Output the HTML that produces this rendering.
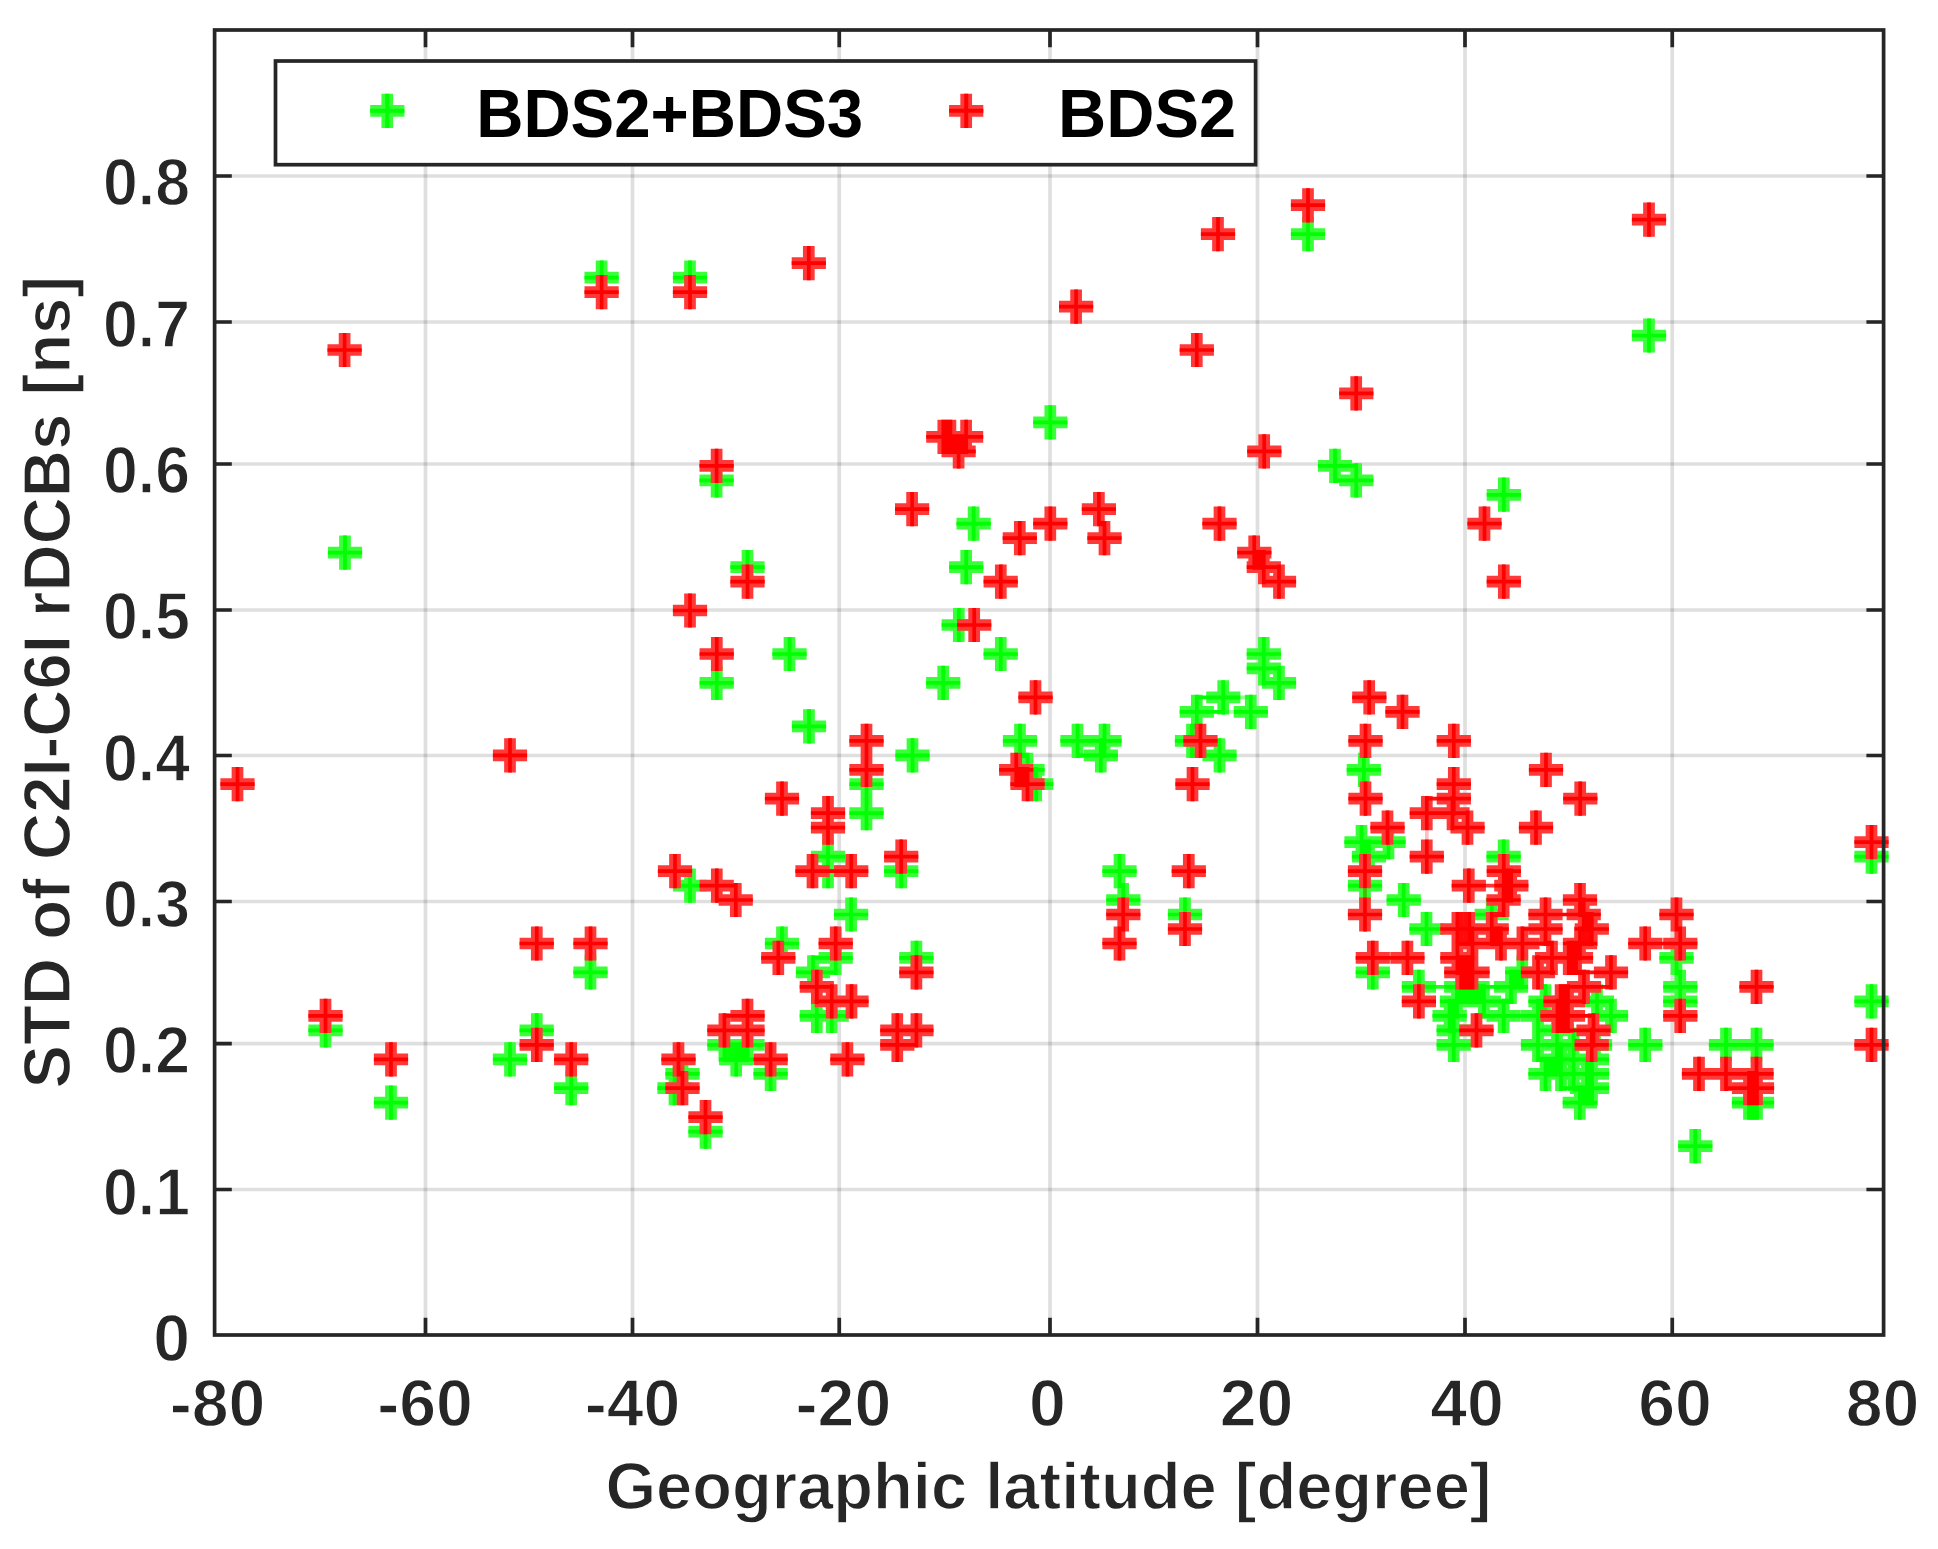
<!DOCTYPE html>
<html lang="en"><head><meta charset="utf-8"><title>STD of C2I-C6I rDCBs</title>
<style>html,body{margin:0;padding:0;background:#fff}body{width:1938px;height:1549px;overflow:hidden}svg{display:block;filter:blur(0.55px)}</style>
</head><body>
<svg width="1938" height="1549" viewBox="0 0 1938 1549">
<rect width="1938" height="1549" fill="#fff"/>
<path d="M425.5 30.0V1335.0M632.5 30.0V1335.0M839.25 30.0V1335.0M1050 30.0V1335.0M1257.5 30.0V1335.0M1465 30.0V1335.0M1672.25 30.0V1335.0" stroke="#262626" stroke-opacity="0.15" stroke-width="3.7" fill="none"/>
<path d="M214.6 176H1883.6M214.6 322H1883.6M214.6 464H1883.6M214.6 610H1883.6M214.6 755.5H1883.6M214.6 901.5H1883.6M214.6 1043.7H1883.6M214.6 1189.5H1883.6" stroke="#262626" stroke-opacity="0.15" stroke-width="3.7" fill="none"/>
<path d="M425.5 1335.0v-17.2M425.5 30.0v17.2M632.5 1335.0v-17.2M632.5 30.0v17.2M839.25 1335.0v-17.2M839.25 30.0v17.2M1050 1335.0v-17.2M1050 30.0v17.2M1257.5 1335.0v-17.2M1257.5 30.0v17.2M1465 1335.0v-17.2M1465 30.0v17.2M1672.25 1335.0v-17.2M1672.25 30.0v17.2M214.6 176h17.2M1883.6 176h-17.2M214.6 322h17.2M1883.6 322h-17.2M214.6 464h17.2M1883.6 464h-17.2M214.6 610h17.2M1883.6 610h-17.2M214.6 755.5h17.2M1883.6 755.5h-17.2M214.6 901.5h17.2M1883.6 901.5h-17.2M214.6 1043.7h17.2M1883.6 1043.7h-17.2M214.6 1189.5h17.2M1883.6 1189.5h-17.2" stroke="#262626" stroke-width="3.7" fill="none"/>
<defs><filter id="er" filterUnits="userSpaceOnUse" x="0" y="0" width="1938" height="1549"><feMorphology operator="erode" radius="4"/></filter></defs>
<path d="M327.9 552.6h34.2M345.0 535.5v34.2M584.5 277.6h34.2M601.6 260.5v34.2M672.9 277.6h34.2M690.0 260.5v34.2M699.5 480.3h34.2M716.6 463.2v34.2M1033.2 422.4h34.2M1050.3 405.3v34.2M956.5 523.7h34.2M973.6 506.6v34.2M1290.9 234.2h34.2M1308.0 217.1v34.2M1317.9 465.8h34.2M1335.0 448.7v34.2M1339.2 480.3h34.2M1356.2 463.2v34.2M1486.7 494.8h34.2M1503.8 477.6v34.2M1631.9 335.5h34.2M1649.0 318.4v34.2M730.4 567.1h34.2M747.5 550.0v34.2M949.1 567.1h34.2M966.2 550.0v34.2M941.6 625.0h34.2M958.8 607.9v34.2M772.4 654.0h34.2M789.5 636.9v34.2M983.6 654.0h34.2M1000.8 636.9v34.2M699.6 682.9h34.2M716.8 665.8v34.2M926.1 682.9h34.2M943.2 665.8v34.2M791.9 726.4h34.2M809.0 709.2v34.2M1002.9 740.8h34.2M1020.0 723.7v34.2M1060.4 740.8h34.2M1077.5 723.7v34.2M1087.4 740.8h34.2M1104.5 723.7v34.2M895.4 755.3h34.2M912.5 738.2v34.2M1083.7 755.3h34.2M1100.8 738.2v34.2M849.4 784.2h34.2M866.5 767.1v34.2M1010.4 769.8h34.2M1027.5 752.7v34.2M1019.1 784.2h34.2M1036.2 767.1v34.2M849.4 813.2h34.2M866.5 796.1v34.2M810.9 856.6h34.2M828.0 839.5v34.2M810.9 871.1h34.2M828.0 854.0v34.2M884.1 871.1h34.2M901.2 854.0v34.2M672.9 885.6h34.2M690.0 868.5v34.2M1246.7 654.0h34.2M1263.8 636.9v34.2M1246.7 668.4h34.2M1263.8 651.3v34.2M1261.9 682.9h34.2M1279.0 665.8v34.2M1206.2 697.4h34.2M1223.2 680.3v34.2M1179.7 711.9h34.2M1196.8 694.8v34.2M1233.7 711.9h34.2M1250.8 694.8v34.2M1174.9 740.8h34.2M1192.0 723.7v34.2M1202.4 755.3h34.2M1219.5 738.2v34.2M1346.7 769.8h34.2M1363.8 752.7v34.2M1344.4 842.1h34.2M1361.5 825.0v34.2M1371.4 842.1h34.2M1388.5 825.0v34.2M1351.9 856.6h34.2M1369.0 839.5v34.2M1486.5 856.6h34.2M1503.6 839.5v34.2M1347.9 885.6h34.2M1365.0 868.5v34.2M1386.6 900.0h34.2M1403.7 882.9v34.2M1854.4 856.6h34.2M1871.5 839.5v34.2M573.4 972.4h34.2M590.5 955.3v34.2M308.4 1030.3h34.2M325.5 1013.2v34.2M519.6 1030.3h34.2M536.8 1013.2v34.2M492.9 1059.3h34.2M510.0 1042.2v34.2M554.1 1088.2h34.2M571.2 1071.1v34.2M373.9 1102.7h34.2M391.0 1085.6v34.2M834.0 914.5h34.2M851.1 897.4v34.2M764.9 943.5h34.2M782.0 926.4v34.2M818.6 957.9h34.2M835.7 940.8v34.2M795.9 972.4h34.2M813.0 955.3v34.2M799.7 1015.8h34.2M816.8 998.7v34.2M814.6 1015.8h34.2M831.7 998.7v34.2M899.3 957.9h34.2M916.4 940.8v34.2M707.3 1044.8h34.2M724.4 1027.7v34.2M730.4 1044.8h34.2M747.5 1027.7v34.2M719.1 1059.3h34.2M736.2 1042.2v34.2M753.5 1073.8h34.2M770.6 1056.7v34.2M665.4 1073.8h34.2M682.5 1056.7v34.2M657.4 1088.2h34.2M674.5 1071.1v34.2M688.4 1131.6h34.2M705.5 1114.5v34.2M1102.4 871.1h34.2M1119.5 854.0v34.2M1106.2 900.0h34.2M1123.2 882.9v34.2M1167.9 914.5h34.2M1185.0 897.4v34.2M1409.4 929.0h34.2M1426.5 911.9v34.2M1355.7 972.4h34.2M1372.8 955.3v34.2M1401.8 986.9h34.2M1418.9 969.8v34.2M1474.6 914.5h34.2M1491.7 897.4v34.2M1505.2 972.4h34.2M1522.3 955.3v34.2M1444.1 986.9h34.2M1461.2 969.8v34.2M1455.4 986.9h34.2M1472.5 969.8v34.2M1493.9 986.9h34.2M1511.0 969.8v34.2M1439.9 1001.4h34.2M1457.0 984.3v34.2M1466.8 1001.4h34.2M1483.9 984.3v34.2M1432.5 1015.8h34.2M1449.6 998.7v34.2M1486.5 1015.8h34.2M1503.6 998.7v34.2M1436.6 1030.3h34.2M1453.7 1013.2v34.2M1436.6 1044.8h34.2M1453.7 1027.7v34.2M1528.4 1001.4h34.2M1545.5 984.3v34.2M1520.9 1015.8h34.2M1538.0 998.7v34.2M1520.9 1044.8h34.2M1538.0 1027.7v34.2M1528.4 1073.8h34.2M1545.5 1056.7v34.2M1539.9 1030.3h34.2M1557.0 1013.2v34.2M1539.9 1044.8h34.2M1557.0 1027.7v34.2M1539.9 1059.3h34.2M1557.0 1042.2v34.2M1543.9 1059.3h34.2M1561.0 1042.2v34.2M1543.9 1073.8h34.2M1561.0 1056.7v34.2M1574.9 1059.3h34.2M1592.0 1042.2v34.2M1574.9 1073.8h34.2M1592.0 1056.7v34.2M1574.9 1088.2h34.2M1592.0 1071.1v34.2M1569.9 1073.8h34.2M1587.0 1056.7v34.2M1569.9 1088.2h34.2M1587.0 1071.1v34.2M1577.9 1044.8h34.2M1595.0 1027.7v34.2M1579.9 1001.4h34.2M1597.0 984.3v34.2M1562.7 1102.7h34.2M1579.8 1085.6v34.2M1593.9 1015.8h34.2M1611.0 998.7v34.2M1659.4 957.9h34.2M1676.5 940.8v34.2M1663.2 986.9h34.2M1680.2 969.8v34.2M1663.2 1001.4h34.2M1680.2 984.3v34.2M1854.4 1001.4h34.2M1871.5 984.3v34.2M1628.2 1044.8h34.2M1645.2 1027.7v34.2M1708.9 1044.8h34.2M1726.0 1027.7v34.2M1739.4 1044.8h34.2M1756.5 1027.7v34.2M1731.9 1102.7h34.2M1749.0 1085.6v34.2M1739.9 1102.7h34.2M1757.0 1085.6v34.2M1678.2 1146.1h34.2M1695.2 1129.0v34.2M1556.5 1044.8h34.2M1573.6 1027.7v34.2M1556.5 1073.8h34.2M1573.6 1056.7v34.2" stroke="#38ff38" stroke-width="11.7" fill="none"/>
<path d="M323.9 552.6h42.2M345.0 531.5v42.2M580.5 277.6h42.2M601.6 256.5v42.2M668.9 277.6h42.2M690.0 256.5v42.2M695.5 480.3h42.2M716.6 459.2v42.2M1029.2 422.4h42.2M1050.3 401.3v42.2M952.5 523.7h42.2M973.6 502.6v42.2M1286.9 234.2h42.2M1308.0 213.1v42.2M1313.9 465.8h42.2M1335.0 444.7v42.2M1335.2 480.3h42.2M1356.2 459.2v42.2M1482.7 494.8h42.2M1503.8 473.6v42.2M1627.9 335.5h42.2M1649.0 314.4v42.2M726.4 567.1h42.2M747.5 546.0v42.2M945.1 567.1h42.2M966.2 546.0v42.2M937.6 625.0h42.2M958.8 603.9v42.2M768.4 654.0h42.2M789.5 632.9v42.2M979.6 654.0h42.2M1000.8 632.9v42.2M695.6 682.9h42.2M716.8 661.8v42.2M922.1 682.9h42.2M943.2 661.8v42.2M787.9 726.4h42.2M809.0 705.2v42.2M998.9 740.8h42.2M1020.0 719.7v42.2M1056.4 740.8h42.2M1077.5 719.7v42.2M1083.4 740.8h42.2M1104.5 719.7v42.2M891.4 755.3h42.2M912.5 734.2v42.2M1079.7 755.3h42.2M1100.8 734.2v42.2M845.4 784.2h42.2M866.5 763.1v42.2M1006.4 769.8h42.2M1027.5 748.7v42.2M1015.1 784.2h42.2M1036.2 763.1v42.2M845.4 813.2h42.2M866.5 792.1v42.2M806.9 856.6h42.2M828.0 835.5v42.2M806.9 871.1h42.2M828.0 850.0v42.2M880.1 871.1h42.2M901.2 850.0v42.2M668.9 885.6h42.2M690.0 864.5v42.2M1242.7 654.0h42.2M1263.8 632.9v42.2M1242.7 668.4h42.2M1263.8 647.3v42.2M1257.9 682.9h42.2M1279.0 661.8v42.2M1202.2 697.4h42.2M1223.2 676.3v42.2M1175.7 711.9h42.2M1196.8 690.8v42.2M1229.7 711.9h42.2M1250.8 690.8v42.2M1170.9 740.8h42.2M1192.0 719.7v42.2M1198.4 755.3h42.2M1219.5 734.2v42.2M1342.7 769.8h42.2M1363.8 748.7v42.2M1340.4 842.1h42.2M1361.5 821.0v42.2M1367.4 842.1h42.2M1388.5 821.0v42.2M1347.9 856.6h42.2M1369.0 835.5v42.2M1482.5 856.6h42.2M1503.6 835.5v42.2M1343.9 885.6h42.2M1365.0 864.5v42.2M1382.6 900.0h42.2M1403.7 878.9v42.2M1850.4 856.6h42.2M1871.5 835.5v42.2M569.4 972.4h42.2M590.5 951.3v42.2M304.4 1030.3h42.2M325.5 1009.2v42.2M515.6 1030.3h42.2M536.8 1009.2v42.2M488.9 1059.3h42.2M510.0 1038.2v42.2M550.1 1088.2h42.2M571.2 1067.1v42.2M369.9 1102.7h42.2M391.0 1081.6v42.2M830.0 914.5h42.2M851.1 893.4v42.2M760.9 943.5h42.2M782.0 922.4v42.2M814.6 957.9h42.2M835.7 936.8v42.2M791.9 972.4h42.2M813.0 951.3v42.2M795.7 1015.8h42.2M816.8 994.7v42.2M810.6 1015.8h42.2M831.7 994.7v42.2M895.3 957.9h42.2M916.4 936.8v42.2M703.3 1044.8h42.2M724.4 1023.7v42.2M726.4 1044.8h42.2M747.5 1023.7v42.2M715.1 1059.3h42.2M736.2 1038.2v42.2M749.5 1073.8h42.2M770.6 1052.7v42.2M661.4 1073.8h42.2M682.5 1052.7v42.2M653.4 1088.2h42.2M674.5 1067.1v42.2M684.4 1131.6h42.2M705.5 1110.5v42.2M1098.4 871.1h42.2M1119.5 850.0v42.2M1102.2 900.0h42.2M1123.2 878.9v42.2M1163.9 914.5h42.2M1185.0 893.4v42.2M1405.4 929.0h42.2M1426.5 907.9v42.2M1351.7 972.4h42.2M1372.8 951.3v42.2M1397.8 986.9h42.2M1418.9 965.8v42.2M1470.6 914.5h42.2M1491.7 893.4v42.2M1501.2 972.4h42.2M1522.3 951.3v42.2M1440.1 986.9h42.2M1461.2 965.8v42.2M1451.4 986.9h42.2M1472.5 965.8v42.2M1489.9 986.9h42.2M1511.0 965.8v42.2M1435.9 1001.4h42.2M1457.0 980.3v42.2M1462.8 1001.4h42.2M1483.9 980.3v42.2M1428.5 1015.8h42.2M1449.6 994.7v42.2M1482.5 1015.8h42.2M1503.6 994.7v42.2M1432.6 1030.3h42.2M1453.7 1009.2v42.2M1432.6 1044.8h42.2M1453.7 1023.7v42.2M1524.4 1001.4h42.2M1545.5 980.3v42.2M1516.9 1015.8h42.2M1538.0 994.7v42.2M1516.9 1044.8h42.2M1538.0 1023.7v42.2M1524.4 1073.8h42.2M1545.5 1052.7v42.2M1535.9 1030.3h42.2M1557.0 1009.2v42.2M1535.9 1044.8h42.2M1557.0 1023.7v42.2M1535.9 1059.3h42.2M1557.0 1038.2v42.2M1539.9 1059.3h42.2M1561.0 1038.2v42.2M1539.9 1073.8h42.2M1561.0 1052.7v42.2M1570.9 1059.3h42.2M1592.0 1038.2v42.2M1570.9 1073.8h42.2M1592.0 1052.7v42.2M1570.9 1088.2h42.2M1592.0 1067.1v42.2M1565.9 1073.8h42.2M1587.0 1052.7v42.2M1565.9 1088.2h42.2M1587.0 1067.1v42.2M1573.9 1044.8h42.2M1595.0 1023.7v42.2M1575.9 1001.4h42.2M1597.0 980.3v42.2M1558.7 1102.7h42.2M1579.8 1081.6v42.2M1589.9 1015.8h42.2M1611.0 994.7v42.2M1655.4 957.9h42.2M1676.5 936.8v42.2M1659.2 986.9h42.2M1680.2 965.8v42.2M1659.2 1001.4h42.2M1680.2 980.3v42.2M1850.4 1001.4h42.2M1871.5 980.3v42.2M1624.2 1044.8h42.2M1645.2 1023.7v42.2M1704.9 1044.8h42.2M1726.0 1023.7v42.2M1735.4 1044.8h42.2M1756.5 1023.7v42.2M1727.9 1102.7h42.2M1749.0 1081.6v42.2M1735.9 1102.7h42.2M1757.0 1081.6v42.2M1674.2 1146.1h42.2M1695.2 1125.0v42.2M1552.5 1044.8h42.2M1573.6 1023.7v42.2M1552.5 1073.8h42.2M1573.6 1052.7v42.2" stroke="#00ff00" stroke-width="11.7" fill="none" filter="url(#er)"/>
<path d="M327.5 350.0h34.2M344.6 332.9v34.2M584.5 292.1h34.2M601.6 275.0v34.2M672.9 292.1h34.2M690.0 275.0v34.2M791.7 263.1h34.2M808.8 246.0v34.2M1059.0 306.6h34.2M1076.1 289.5v34.2M926.2 436.8h34.2M943.3 419.7v34.2M933.3 436.8h34.2M950.4 419.7v34.2M949.0 436.8h34.2M966.1 419.7v34.2M941.5 451.3h34.2M958.6 434.2v34.2M699.5 465.8h34.2M716.6 448.7v34.2M895.0 509.2h34.2M912.1 492.1v34.2M1002.7 538.2h34.2M1019.8 521.1v34.2M1033.2 523.7h34.2M1050.3 506.6v34.2M1081.8 509.2h34.2M1098.9 492.1v34.2M1087.4 538.2h34.2M1104.5 521.1v34.2M1290.9 205.2h34.2M1308.0 188.2v34.2M1200.9 234.2h34.2M1218.0 217.1v34.2M1179.7 350.0h34.2M1196.8 332.9v34.2M1339.2 393.4h34.2M1356.2 376.3v34.2M1247.2 451.3h34.2M1264.2 434.2v34.2M1467.4 523.7h34.2M1484.5 506.6v34.2M1202.4 523.7h34.2M1219.5 506.6v34.2M1631.9 219.7h34.2M1649.0 202.6v34.2M492.9 755.3h34.2M510.0 738.2v34.2M220.4 784.2h34.2M237.5 767.1v34.2M657.9 871.1h34.2M675.0 854.0v34.2M730.4 581.6h34.2M747.5 564.5v34.2M983.6 581.6h34.2M1000.8 564.5v34.2M672.9 610.5h34.2M690.0 593.4v34.2M957.1 625.0h34.2M974.2 607.9v34.2M699.6 654.0h34.2M716.8 636.9v34.2M1018.4 697.4h34.2M1035.5 680.3v34.2M849.4 740.8h34.2M866.5 723.7v34.2M849.4 769.8h34.2M866.5 752.7v34.2M999.1 769.8h34.2M1016.2 752.7v34.2M1010.4 784.2h34.2M1027.5 767.1v34.2M764.9 798.7h34.2M782.0 781.6v34.2M810.9 813.2h34.2M828.0 796.1v34.2M810.9 827.7h34.2M828.0 810.6v34.2M884.1 856.6h34.2M901.2 839.5v34.2M795.4 871.1h34.2M812.5 854.0v34.2M834.1 871.1h34.2M851.2 854.0v34.2M699.6 885.6h34.2M716.8 868.5v34.2M718.6 900.0h34.2M735.8 882.9v34.2M1237.2 552.6h34.2M1254.2 535.5v34.2M1246.7 567.1h34.2M1263.8 550.0v34.2M1261.9 581.6h34.2M1279.0 564.5v34.2M1486.7 581.6h34.2M1503.8 564.5v34.2M1352.2 697.4h34.2M1369.2 680.3v34.2M1385.4 711.9h34.2M1402.5 694.8v34.2M1183.4 740.8h34.2M1200.5 723.7v34.2M1175.4 784.2h34.2M1192.5 767.1v34.2M1348.4 740.8h34.2M1365.5 723.7v34.2M1436.7 740.8h34.2M1453.8 723.7v34.2M1348.4 798.7h34.2M1365.5 781.6v34.2M1528.9 769.8h34.2M1546.0 752.7v34.2M1436.7 784.2h34.2M1453.8 767.1v34.2M1436.7 798.7h34.2M1453.8 781.6v34.2M1435.4 813.2h34.2M1452.5 796.1v34.2M1409.7 813.2h34.2M1426.8 796.1v34.2M1450.4 827.7h34.2M1467.5 810.6v34.2M1563.2 798.7h34.2M1580.2 781.6v34.2M1518.9 827.7h34.2M1536.0 810.6v34.2M1370.4 827.7h34.2M1387.5 810.6v34.2M1409.7 856.6h34.2M1426.8 839.5v34.2M1347.9 871.1h34.2M1365.0 854.0v34.2M1486.7 871.1h34.2M1503.8 854.0v34.2M1451.7 885.6h34.2M1468.8 868.5v34.2M1494.2 885.6h34.2M1511.2 868.5v34.2M1171.7 871.1h34.2M1188.8 854.0v34.2M1854.4 842.1h34.2M1871.5 825.0v34.2M519.6 943.5h34.2M536.8 926.4v34.2M573.4 943.5h34.2M590.5 926.4v34.2M308.4 1015.8h34.2M325.5 998.7v34.2M519.6 1044.8h34.2M536.8 1027.7v34.2M373.9 1059.3h34.2M391.0 1042.2v34.2M554.1 1059.3h34.2M571.2 1042.2v34.2M661.4 1059.3h34.2M678.5 1042.2v34.2M665.4 1088.2h34.2M682.5 1071.1v34.2M688.4 1117.2h34.2M705.5 1100.1v34.2M761.2 957.9h34.2M778.3 940.8v34.2M818.6 943.5h34.2M835.7 926.4v34.2M799.7 986.9h34.2M816.8 969.8v34.2M814.6 1001.4h34.2M831.7 984.3v34.2M834.4 1001.4h34.2M851.5 984.3v34.2M899.3 972.4h34.2M916.4 955.3v34.2M730.4 1015.8h34.2M747.5 998.7v34.2M707.3 1030.3h34.2M724.4 1013.2v34.2M730.4 1030.3h34.2M747.5 1013.2v34.2M753.5 1059.3h34.2M770.6 1042.2v34.2M830.3 1059.3h34.2M847.4 1042.2v34.2M880.2 1030.3h34.2M897.3 1013.2v34.2M899.3 1030.3h34.2M916.4 1013.2v34.2M880.2 1044.8h34.2M897.3 1027.7v34.2M1106.2 914.5h34.2M1123.2 897.4v34.2M1102.4 943.5h34.2M1119.5 926.4v34.2M1167.9 929.0h34.2M1185.0 911.9v34.2M1347.9 914.5h34.2M1365.0 897.4v34.2M1355.7 957.9h34.2M1372.8 940.8v34.2M1390.3 957.9h34.2M1407.4 940.8v34.2M1401.8 1001.4h34.2M1418.9 984.3v34.2M1486.5 900.0h34.2M1503.6 882.9v34.2M1440.3 929.0h34.2M1457.4 911.9v34.2M1452.2 929.0h34.2M1469.3 911.9v34.2M1474.6 929.0h34.2M1491.7 911.9v34.2M1455.4 943.5h34.2M1472.5 926.4v34.2M1483.9 943.5h34.2M1501.0 926.4v34.2M1505.3 943.5h34.2M1522.4 926.4v34.2M1440.3 957.9h34.2M1457.4 940.8v34.2M1444.2 972.4h34.2M1461.2 955.3v34.2M1455.4 972.4h34.2M1472.5 955.3v34.2M1528.4 914.5h34.2M1545.5 897.4v34.2M1528.4 929.0h34.2M1545.5 911.9v34.2M1534.9 957.9h34.2M1552.0 940.8v34.2M1520.9 972.4h34.2M1538.0 955.3v34.2M1551.6 957.9h34.2M1568.7 940.8v34.2M1558.9 957.9h34.2M1576.0 940.8v34.2M1562.9 900.0h34.2M1580.0 882.9v34.2M1566.6 914.5h34.2M1583.7 897.4v34.2M1574.7 929.0h34.2M1591.8 911.9v34.2M1562.9 943.5h34.2M1580.0 926.4v34.2M1593.9 972.4h34.2M1611.0 955.3v34.2M1566.9 986.9h34.2M1584.0 969.8v34.2M1543.5 1001.4h34.2M1560.6 984.3v34.2M1550.9 1001.4h34.2M1568.0 984.3v34.2M1540.4 1015.8h34.2M1557.5 998.7v34.2M1550.9 1015.8h34.2M1568.0 998.7v34.2M1576.4 1030.3h34.2M1593.5 1013.2v34.2M1574.6 1044.8h34.2M1591.7 1027.7v34.2M1459.4 1030.3h34.2M1476.5 1013.2v34.2M1659.4 914.5h34.2M1676.5 897.4v34.2M1628.2 943.5h34.2M1645.2 926.4v34.2M1663.2 943.5h34.2M1680.2 926.4v34.2M1663.2 1015.8h34.2M1680.2 998.7v34.2M1739.4 986.9h34.2M1756.5 969.8v34.2M1854.4 1044.8h34.2M1871.5 1027.7v34.2M1681.9 1073.8h34.2M1699.0 1056.7v34.2M1708.9 1073.8h34.2M1726.0 1056.7v34.2M1739.4 1073.8h34.2M1756.5 1056.7v34.2M1731.9 1088.2h34.2M1749.0 1071.1v34.2M1739.9 1088.2h34.2M1757.0 1071.1v34.2" stroke="#ff3838" stroke-width="11.7" fill="none"/>
<path d="M323.5 350.0h42.2M344.6 328.9v42.2M580.5 292.1h42.2M601.6 271.0v42.2M668.9 292.1h42.2M690.0 271.0v42.2M787.7 263.1h42.2M808.8 242.0v42.2M1055.0 306.6h42.2M1076.1 285.5v42.2M922.2 436.8h42.2M943.3 415.7v42.2M929.3 436.8h42.2M950.4 415.7v42.2M945.0 436.8h42.2M966.1 415.7v42.2M937.5 451.3h42.2M958.6 430.2v42.2M695.5 465.8h42.2M716.6 444.7v42.2M891.0 509.2h42.2M912.1 488.1v42.2M998.7 538.2h42.2M1019.8 517.1v42.2M1029.2 523.7h42.2M1050.3 502.6v42.2M1077.8 509.2h42.2M1098.9 488.1v42.2M1083.4 538.2h42.2M1104.5 517.1v42.2M1286.9 205.2h42.2M1308.0 184.2v42.2M1196.9 234.2h42.2M1218.0 213.1v42.2M1175.7 350.0h42.2M1196.8 328.9v42.2M1335.2 393.4h42.2M1356.2 372.3v42.2M1243.2 451.3h42.2M1264.2 430.2v42.2M1463.4 523.7h42.2M1484.5 502.6v42.2M1198.4 523.7h42.2M1219.5 502.6v42.2M1627.9 219.7h42.2M1649.0 198.6v42.2M488.9 755.3h42.2M510.0 734.2v42.2M216.4 784.2h42.2M237.5 763.1v42.2M653.9 871.1h42.2M675.0 850.0v42.2M726.4 581.6h42.2M747.5 560.5v42.2M979.6 581.6h42.2M1000.8 560.5v42.2M668.9 610.5h42.2M690.0 589.4v42.2M953.1 625.0h42.2M974.2 603.9v42.2M695.6 654.0h42.2M716.8 632.9v42.2M1014.4 697.4h42.2M1035.5 676.3v42.2M845.4 740.8h42.2M866.5 719.7v42.2M845.4 769.8h42.2M866.5 748.7v42.2M995.1 769.8h42.2M1016.2 748.7v42.2M1006.4 784.2h42.2M1027.5 763.1v42.2M760.9 798.7h42.2M782.0 777.6v42.2M806.9 813.2h42.2M828.0 792.1v42.2M806.9 827.7h42.2M828.0 806.6v42.2M880.1 856.6h42.2M901.2 835.5v42.2M791.4 871.1h42.2M812.5 850.0v42.2M830.1 871.1h42.2M851.2 850.0v42.2M695.6 885.6h42.2M716.8 864.5v42.2M714.6 900.0h42.2M735.8 878.9v42.2M1233.2 552.6h42.2M1254.2 531.5v42.2M1242.7 567.1h42.2M1263.8 546.0v42.2M1257.9 581.6h42.2M1279.0 560.5v42.2M1482.7 581.6h42.2M1503.8 560.5v42.2M1348.2 697.4h42.2M1369.2 676.3v42.2M1381.4 711.9h42.2M1402.5 690.8v42.2M1179.4 740.8h42.2M1200.5 719.7v42.2M1171.4 784.2h42.2M1192.5 763.1v42.2M1344.4 740.8h42.2M1365.5 719.7v42.2M1432.7 740.8h42.2M1453.8 719.7v42.2M1344.4 798.7h42.2M1365.5 777.6v42.2M1524.9 769.8h42.2M1546.0 748.7v42.2M1432.7 784.2h42.2M1453.8 763.1v42.2M1432.7 798.7h42.2M1453.8 777.6v42.2M1431.4 813.2h42.2M1452.5 792.1v42.2M1405.7 813.2h42.2M1426.8 792.1v42.2M1446.4 827.7h42.2M1467.5 806.6v42.2M1559.2 798.7h42.2M1580.2 777.6v42.2M1514.9 827.7h42.2M1536.0 806.6v42.2M1366.4 827.7h42.2M1387.5 806.6v42.2M1405.7 856.6h42.2M1426.8 835.5v42.2M1343.9 871.1h42.2M1365.0 850.0v42.2M1482.7 871.1h42.2M1503.8 850.0v42.2M1447.7 885.6h42.2M1468.8 864.5v42.2M1490.2 885.6h42.2M1511.2 864.5v42.2M1167.7 871.1h42.2M1188.8 850.0v42.2M1850.4 842.1h42.2M1871.5 821.0v42.2M515.6 943.5h42.2M536.8 922.4v42.2M569.4 943.5h42.2M590.5 922.4v42.2M304.4 1015.8h42.2M325.5 994.7v42.2M515.6 1044.8h42.2M536.8 1023.7v42.2M369.9 1059.3h42.2M391.0 1038.2v42.2M550.1 1059.3h42.2M571.2 1038.2v42.2M657.4 1059.3h42.2M678.5 1038.2v42.2M661.4 1088.2h42.2M682.5 1067.1v42.2M684.4 1117.2h42.2M705.5 1096.1v42.2M757.2 957.9h42.2M778.3 936.8v42.2M814.6 943.5h42.2M835.7 922.4v42.2M795.7 986.9h42.2M816.8 965.8v42.2M810.6 1001.4h42.2M831.7 980.3v42.2M830.4 1001.4h42.2M851.5 980.3v42.2M895.3 972.4h42.2M916.4 951.3v42.2M726.4 1015.8h42.2M747.5 994.7v42.2M703.3 1030.3h42.2M724.4 1009.2v42.2M726.4 1030.3h42.2M747.5 1009.2v42.2M749.5 1059.3h42.2M770.6 1038.2v42.2M826.3 1059.3h42.2M847.4 1038.2v42.2M876.2 1030.3h42.2M897.3 1009.2v42.2M895.3 1030.3h42.2M916.4 1009.2v42.2M876.2 1044.8h42.2M897.3 1023.7v42.2M1102.2 914.5h42.2M1123.2 893.4v42.2M1098.4 943.5h42.2M1119.5 922.4v42.2M1163.9 929.0h42.2M1185.0 907.9v42.2M1343.9 914.5h42.2M1365.0 893.4v42.2M1351.7 957.9h42.2M1372.8 936.8v42.2M1386.3 957.9h42.2M1407.4 936.8v42.2M1397.8 1001.4h42.2M1418.9 980.3v42.2M1482.5 900.0h42.2M1503.6 878.9v42.2M1436.3 929.0h42.2M1457.4 907.9v42.2M1448.2 929.0h42.2M1469.3 907.9v42.2M1470.6 929.0h42.2M1491.7 907.9v42.2M1451.4 943.5h42.2M1472.5 922.4v42.2M1479.9 943.5h42.2M1501.0 922.4v42.2M1501.3 943.5h42.2M1522.4 922.4v42.2M1436.3 957.9h42.2M1457.4 936.8v42.2M1440.2 972.4h42.2M1461.2 951.3v42.2M1451.4 972.4h42.2M1472.5 951.3v42.2M1524.4 914.5h42.2M1545.5 893.4v42.2M1524.4 929.0h42.2M1545.5 907.9v42.2M1530.9 957.9h42.2M1552.0 936.8v42.2M1516.9 972.4h42.2M1538.0 951.3v42.2M1547.6 957.9h42.2M1568.7 936.8v42.2M1554.9 957.9h42.2M1576.0 936.8v42.2M1558.9 900.0h42.2M1580.0 878.9v42.2M1562.6 914.5h42.2M1583.7 893.4v42.2M1570.7 929.0h42.2M1591.8 907.9v42.2M1558.9 943.5h42.2M1580.0 922.4v42.2M1589.9 972.4h42.2M1611.0 951.3v42.2M1562.9 986.9h42.2M1584.0 965.8v42.2M1539.5 1001.4h42.2M1560.6 980.3v42.2M1546.9 1001.4h42.2M1568.0 980.3v42.2M1536.4 1015.8h42.2M1557.5 994.7v42.2M1546.9 1015.8h42.2M1568.0 994.7v42.2M1572.4 1030.3h42.2M1593.5 1009.2v42.2M1570.6 1044.8h42.2M1591.7 1023.7v42.2M1455.4 1030.3h42.2M1476.5 1009.2v42.2M1655.4 914.5h42.2M1676.5 893.4v42.2M1624.2 943.5h42.2M1645.2 922.4v42.2M1659.2 943.5h42.2M1680.2 922.4v42.2M1659.2 1015.8h42.2M1680.2 994.7v42.2M1735.4 986.9h42.2M1756.5 965.8v42.2M1850.4 1044.8h42.2M1871.5 1023.7v42.2M1677.9 1073.8h42.2M1699.0 1052.7v42.2M1704.9 1073.8h42.2M1726.0 1052.7v42.2M1735.4 1073.8h42.2M1756.5 1052.7v42.2M1727.9 1088.2h42.2M1749.0 1067.1v42.2M1735.9 1088.2h42.2M1757.0 1067.1v42.2" stroke="#ff0000" stroke-width="11.7" fill="none" filter="url(#er)"/>
<rect x="214.6" y="30.0" width="1669.0" height="1305.0" fill="none" stroke="#262626" stroke-width="3.7"/>
<rect x="275.5" y="61" width="980.0999999999999" height="103.69999999999999" fill="#fff" stroke="#262626" stroke-width="3.7"/>
<path d="M370.2 110.8h34.2M387.3 93.69999999999999v34.2" stroke="#38ff38" stroke-width="11.7" fill="none"/><path d="M370.2 110.8h34.2M387.3 93.69999999999999v34.2" stroke="#00ff00" stroke-width="4.0" fill="none"/>
<path d="M949.1 110.8h34.2M966.2 93.69999999999999v34.2" stroke="#ff3838" stroke-width="11.7" fill="none"/><path d="M949.1 110.8h34.2M966.2 93.69999999999999v34.2" stroke="#ff0000" stroke-width="4.0" fill="none"/>
<g font-family="'Liberation Sans', Arial, Helvetica, sans-serif" font-weight="bold" font-size="66.2px" fill="#262626" stroke="#fff" stroke-width="1.3">
<text x="476.2" y="136.5" fill="#000" stroke="none" font-size="69px" textLength="387" lengthAdjust="spacingAndGlyphs">BDS2+BDS3</text>
<text x="1058" y="136.5" fill="#000" stroke="none" font-size="69px" textLength="178" lengthAdjust="spacingAndGlyphs">BDS2</text>
<text x="190" y="204.8" text-anchor="end" textLength="87" lengthAdjust="spacingAndGlyphs">0.8</text>
<text x="190" y="347.0" text-anchor="end" textLength="87" lengthAdjust="spacingAndGlyphs">0.7</text>
<text x="190" y="492.7" text-anchor="end" textLength="87" lengthAdjust="spacingAndGlyphs">0.6</text>
<text x="190" y="638.7" text-anchor="end" textLength="87" lengthAdjust="spacingAndGlyphs">0.5</text>
<text x="190" y="781.4" text-anchor="end" textLength="87" lengthAdjust="spacingAndGlyphs">0.4</text>
<text x="190" y="927.0" text-anchor="end" textLength="87" lengthAdjust="spacingAndGlyphs">0.3</text>
<text x="190" y="1072.7" text-anchor="end" textLength="87" lengthAdjust="spacingAndGlyphs">0.2</text>
<text x="190" y="1214.5" text-anchor="end" textLength="87" lengthAdjust="spacingAndGlyphs">0.1</text>
<text x="190" y="1361.4" text-anchor="end">0</text>
<text x="217.6" y="1426" text-anchor="middle">-80</text>
<text x="425" y="1426" text-anchor="middle">-60</text>
<text x="632.5" y="1426" text-anchor="middle">-40</text>
<text x="843.4" y="1426" text-anchor="middle">-20</text>
<text x="1047.5" y="1426" text-anchor="middle">0</text>
<text x="1256.5" y="1426" text-anchor="middle">20</text>
<text x="1467" y="1426" text-anchor="middle">40</text>
<text x="1675" y="1426" text-anchor="middle">60</text>
<text x="1882.6" y="1426" text-anchor="middle">80</text>
<text x="1048.5" y="1509.3" text-anchor="middle" textLength="886" lengthAdjust="spacingAndGlyphs">Geographic latitude [degree]</text>
<text transform="translate(70,682.2) rotate(-90)" text-anchor="middle" textLength="812.6" lengthAdjust="spacingAndGlyphs">STD of C2I-C6I rDCBs [ns]</text>
</g>
</svg>
</body></html>
